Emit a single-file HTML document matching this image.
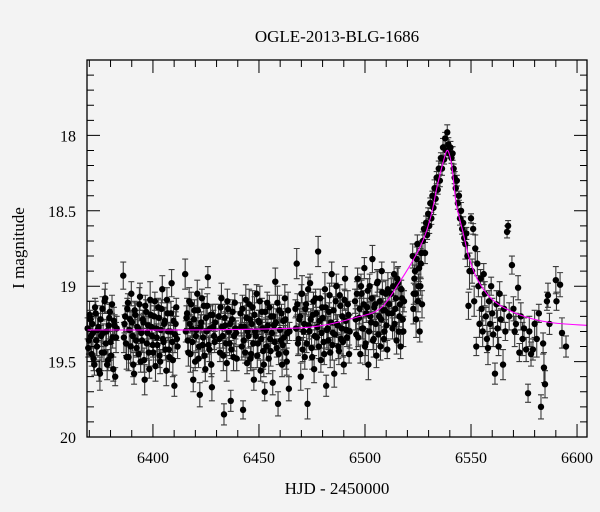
<!DOCTYPE html>
<html><head><meta charset="utf-8"><style>
html,body{margin:0;padding:0;background:#f3f3f3;}
svg{display:block;font-family:"Liberation Serif",serif;}
</style></head><body>
<svg id="chart" width="600" height="512" viewBox="0 0 600 512" xmlns="http://www.w3.org/2000/svg">
<rect x="0" y="0" width="600" height="512" fill="#f3f3f3"/>
<text x="337" y="42" font-size="17" text-anchor="middle">OGLE-2013-BLG-1686</text>
<text x="337" y="494" font-size="17" text-anchor="middle">HJD - 2450000</text>
<text transform="translate(24,248) rotate(-90)" font-size="17" text-anchor="middle">I magnitude</text>
<g id="errs"></g>
<g id="pts"></g>
<path id="model" fill="none" stroke="#ff00ff" stroke-width="1.1"/>
<g id="axes"></g>
<rect x="87" y="60" width="500" height="377" fill="none" stroke="#000" stroke-width="1.3"/>
</svg>
<script>
const times = [6369.2,6369.8,6370.5,6371.1,6371.7,6372.4,6373.0,6373.6,6374.3,6375.0,6375.6,6376.2,6376.9,6377.5,6378.1,6378.8,6379.4,6380.0,6380.7,6381.3,6381.9,6382.6,
6386.0,6386.6,6387.3,6387.9,6388.5,6389.2,6389.8,6390.4,6391.1,6391.7,6392.3,6393.0,6393.6,6394.2,6394.9,6395.5,6396.1,6396.8,6397.4,6398.0,6398.7,6399.3,6399.9,6400.6,6401.2,6401.8,6402.5,6403.1,6403.7,6404.4,6405.0,6405.6,6406.3,6406.9,6407.5,6408.2,6408.8,6409.4,6410.1,6410.7,6411.3,
6415.2,6415.8,6416.4,6417.1,6417.7,6418.3,6419.0,6419.6,6420.2,6420.9,6421.5,6422.1,6422.8,6423.4,6424.0,6424.7,6425.3,6425.9,6426.6,6427.2,6427.8,6428.5,6429.1,
6431.0,6431.6,6432.3,6432.9,6433.5,6434.2,6434.8,6435.4,6436.1,6436.7,6437.3,6438.0,6438.6,6439.2,
6441.3,6441.9,6442.5,6443.2,6443.8,6444.4,6445.1,6445.7,6446.3,6447.0,6447.6,6448.2,6448.9,6449.5,6450.1,6450.8,6451.4,6452.0,6452.7,6453.3,6453.9,6454.6,6455.2,6455.8,6456.5,6457.1,6457.7,6458.4,6459.0,6459.6,6460.3,6460.9,6461.5,6462.2,6462.8,6463.4,6464.1,
6467.2,6467.8,6468.4,6469.1,6469.7,6470.3,6471.0,6471.6,6472.2,6472.9,6473.5,6474.1,6474.8,6475.4,6476.0,6476.7,6477.3,6477.9,6478.6,6479.2,6479.8,6480.5,6481.1,6481.7,6482.4,6483.0,6483.6,6484.3,6484.9,6485.5,6486.2,6486.8,6487.4,6488.1,6488.7,6489.3,6490.0,6490.6,6491.2,6491.9,6492.5,
6495.3,6495.9,6496.5,6497.2,6497.8,6498.4,6499.1,6499.7,6500.3,6501.0,6501.6,6502.2,6502.9,6503.5,6504.1,6504.8,6505.4,6506.0,6506.7,6507.3,6507.9,6508.6,6509.2,6509.8,6510.5,6511.1,
6512.4,6513.0,6513.7,6514.3,6514.9,6515.6,6516.2,6516.8,6517.5,6518.1,
6522.5,6523.0,6523.6,6524.1,6524.7,6525.2,6525.8,6526.3,6526.9,
6527.3,6527.8,6528.3,6528.8,6529.3,6529.8,6530.3,6530.8,6531.3,6531.8,6532.3,6532.8,6533.3,6533.8,6534.3,6534.8,6535.3,6535.8,6536.3,6536.8,6537.3,6537.8,6538.3,6538.8,6539.3,6539.8,
6540.3,6540.8,6541.3,6541.8,6542.3,6542.8,6543.3,6543.8,6544.3,6544.8,6545.3,6545.8,6546.3,6546.8,6547.3,6547.8,6548.3,6548.8,6549.3,
6550.0,6550.5,6551.0,6551.5,6552.0,6552.5,6553.0,6553.5,6554.0,6554.5,6555.0,6555.5,6556.0,6556.5,6557.0,6557.5,6558.0,6558.5,6559.0,6559.5,6560.0,6560.5,6561.3,6562.0,6562.5,6563.0,6563.5,6564.0,6565.1,6565.6,6566.2,6567.0,6567.5,6568.0,6569.3,6570.0,6570.6,6571.2,6572.2,6572.8,6573.5,6574.3,6575.0,6576.0,6576.9,6577.5,6578.3,6579.2,6580.0,6581.0,6582.0,6583.0,6584.0,6584.4,6584.9,6585.8,6586.3,6587.0,6590.0,6590.3,6592.0,6592.9,6594.8];
const mags = [19.28,19.36,19.22,19.45,19.31,19.52,19.18,19.40,19.27,19.58,19.33,19.15,19.44,19.08,19.30,19.49,19.21,19.37,19.12,19.55,19.26,19.34,
18.93,19.25,19.38,19.15,19.47,19.22,19.05,19.33,19.58,19.19,19.41,19.28,19.12,19.50,19.36,19.24,19.62,19.17,19.31,19.44,19.09,19.27,19.39,19.20,19.53,19.34,19.14,19.46,19.29,19.02,19.37,19.23,19.56,19.18,19.42,19.30,18.98,19.49,19.66,19.25,19.35,
18.92,19.21,19.36,19.10,19.45,19.28,19.62,19.16,19.33,19.05,19.48,19.72,19.24,19.39,19.13,19.55,19.30,18.94,19.42,19.19,19.67,19.27,19.37,
19.20,19.44,19.08,19.33,19.85,19.26,19.51,19.15,19.38,19.76,19.22,19.47,19.11,19.31,
19.18,19.40,19.82,19.27,19.09,19.51,19.33,19.22,19.45,19.14,19.62,19.30,19.05,19.38,19.24,19.56,19.17,19.43,19.70,19.29,19.11,19.48,19.35,19.20,19.64,19.26,18.97,19.41,19.78,19.16,19.36,19.52,19.23,19.08,19.44,19.31,19.68,
19.15,18.85,19.38,19.22,19.60,19.05,19.30,19.47,19.12,19.78,19.26,18.98,19.41,19.19,19.55,19.08,19.34,18.77,19.23,19.49,19.14,19.37,19.02,19.66,19.28,19.17,19.44,18.92,19.31,19.58,19.10,19.25,19.40,19.06,19.35,19.20,19.52,18.95,19.29,19.12,19.45,
19.10,19.32,18.95,19.21,19.45,19.05,19.28,18.88,19.38,19.14,19.52,19.00,19.24,18.82,19.35,19.12,19.46,18.97,19.20,19.40,18.90,19.16,19.30,19.05,19.42,19.18,
19.05,19.28,18.92,19.15,19.36,18.98,19.20,19.40,19.08,19.30,
18.80,19.05,18.90,19.22,18.72,19.00,19.30,18.85,19.12,
18.70,18.62,18.78,18.58,18.66,18.52,18.60,18.45,18.55,18.40,18.48,18.35,18.42,18.28,18.36,18.22,18.30,18.15,18.22,18.08,18.16,18.02,18.10,17.98,18.06,18.12,
18.08,18.15,18.12,18.22,18.28,18.35,18.30,18.45,18.40,18.55,18.50,18.62,18.58,18.68,18.72,18.65,18.80,19.13,18.90,
18.55,18.90,18.62,19.10,18.75,19.40,18.85,19.00,19.25,18.95,19.15,19.30,18.92,19.05,19.20,19.35,19.41,19.10,19.25,19.00,19.18,19.32,19.58,19.12,19.28,19.40,19.05,19.22,19.52,19.15,19.30,18.64,18.60,19.20,18.86,19.15,19.30,19.25,19.01,19.44,19.20,19.35,19.28,19.42,19.71,19.30,19.45,19.42,19.25,19.35,19.18,19.80,19.38,19.54,19.65,19.10,19.06,19.25,18.96,19.10,18.99,19.31,19.40];
const times2 = [6369.5,6370.1,6370.8,6371.4,6372.0,6372.7,6373.3,6373.9,6374.6,6375.3,6375.9,6376.5,6377.2,6377.8,6378.4,6379.1,6379.7,6380.3,6381.0,6381.6,6382.2,6382.9,
6386.3,6386.9,6387.6,6388.2,6388.8,6389.5,6390.1,6390.7,6391.4,6392.0,6392.6,6393.3,6393.9,6394.5,6395.2,6395.8,6396.4,6397.1,6397.7,6398.3,6399.0,6399.6,6400.2,6400.9,6401.5,6402.1,6402.8,6403.4,6404.0,6404.7,6405.3,6405.9,6406.6,6407.2,6407.8,6408.5,6409.1,6409.7,6410.4,6411.0,6411.6,
6415.5,6416.1,6416.7,6417.4,6418.0,6418.6,6419.3,6419.9,6420.5,6421.2,6421.8,6422.4,6423.1,6423.7,6424.3,6425.0,6425.6,6426.2,6426.9,6427.5,6428.1,6428.8,6429.4,
6431.3,6431.9,6432.6,6433.2,6433.8,6434.5,6435.1,6435.7,6436.4,6437.0,6437.6,6438.3,6438.9,6439.5,
6441.6,6442.2,6442.8,6443.5,6444.1,6444.7,6445.4,6446.0,6446.6,6447.3,6447.9,6448.5,6449.2,6449.8,6450.4,6451.1,6451.7,6452.3,6453.0,6453.6,6454.2,6454.9,6455.5,6456.1,6456.8,6457.4,6458.0,6458.7,6459.3,6459.9,6460.6,6461.2,6461.8,6462.5,6463.1,6463.7,6464.4,
6467.5,6468.1,6468.7,6469.4,6470.0,6470.6,6471.3,6471.9,6472.5,6473.2,6473.8,6474.4,6475.1,6475.7,6476.3,6477.0,6477.6,6478.2,6478.9,6479.5,6480.1,6480.8,6481.4,6482.0,6482.7,6483.3,6483.9,6484.6,6485.2,6485.8,6486.5,6487.1,6487.7,6488.4,6489.0,6489.6,6490.3,6490.9,6491.5,6492.2,6492.8,
6495.6,6496.2,6496.8,6497.5,6498.1,6498.7,6499.4,6500.0,6500.6,6501.3,6501.9,6502.5,6503.2,6503.8,6504.4,6505.1,6505.7,6506.3,6507.0,6507.6,6508.2,6508.9,6509.5,6510.1,6510.8,6511.4,
6512.7,6513.3,6514.0,6514.6,6515.2,6515.9,6516.5,6517.1,6517.8,6518.4,6522.8,6523.3,6523.9,6524.4,6525.0,6525.5,6526.1,6526.6];
const mags2 = [19.41,19.19,19.33,19.25,19.48,19.14,19.36,19.29,19.56,19.22,19.44,19.31,19.10,19.38,19.52,19.26,19.17,19.46,19.34,19.23,19.60,19.28,
19.34,19.20,19.47,19.11,19.29,19.40,19.24,19.52,19.16,19.36,19.27,19.45,19.07,19.31,19.22,19.49,19.13,19.38,19.26,19.55,19.19,19.33,19.44,19.10,19.28,19.39,19.21,19.50,19.15,19.35,19.25,19.42,19.09,19.30,19.47,19.18,19.37,19.23,19.32,19.14,19.40,
19.30,19.18,19.44,19.25,19.12,19.37,19.22,19.50,19.29,19.16,19.40,19.27,19.08,19.34,19.46,19.21,19.13,19.39,19.28,19.52,19.19,19.33,19.24,
19.35,19.14,19.27,19.46,19.21,19.38,19.10,19.30,19.25,19.42,19.17,19.33,19.28,19.48,
19.27,19.15,19.36,19.44,19.21,19.30,19.12,19.48,19.25,19.38,19.19,19.33,19.46,19.23,19.10,19.35,19.28,19.52,19.17,19.40,19.26,19.14,19.43,19.31,19.20,19.37,19.24,19.11,19.45,19.29,19.18,19.39,19.34,19.22,19.50,19.16,19.30,
19.28,19.12,19.35,19.20,19.05,19.42,19.25,19.15,19.38,19.02,19.30,19.22,19.47,19.10,19.33,19.18,19.27,19.40,19.08,19.31,19.21,19.45,19.14,19.29,19.36,19.06,19.24,19.39,19.16,19.32,19.00,19.26,19.43,19.13,19.28,19.37,19.09,19.23,19.34,19.19,19.30,
19.22,19.05,19.34,19.15,19.00,19.28,19.12,19.40,19.18,19.03,19.30,19.20,19.08,19.36,19.14,19.25,18.98,19.32,19.10,19.22,19.04,19.35,19.16,19.26,19.02,19.12,
19.18,19.00,19.25,19.08,18.95,19.30,19.12,19.02,19.22,19.10,19.15,18.95,19.05,18.82,19.10,18.88,19.00,18.78];
const errs = [0.07,0.09,0.06,0.08,0.10,0.07,0.08,0.06,0.09,0.11,0.07,0.08,0.06,0.10,0.08,0.07,0.09,0.12,0.06,0.08,0.07,0.10,0.09,0.06,0.08];
const modelT = [6369,6420,6463,6480,6495,6507,6516,6526,6531,6534,6537,6539,6541,6543,6546,6549.5,6554,6561,6573,6587,6605];
const modelM = [19.29,19.29,19.28,19.26,19.21,19.15,18.98,18.74,18.54,18.34,18.17,18.10,18.21,18.45,18.63,18.83,18.98,19.10,19.19,19.24,19.26];
const xTicks = [6400,6450,6500,6550,6600];
const yTicks = [18,18.5,19,19.5,20];

const NS="http://www.w3.org/2000/svg";
const X0=87,X1=587,Y0=60,Y1=437;
const xmin=6368.9, xmax=6604.7, ymin=17.5, ymax=20;
const xs=t=>X0+(t-xmin)/(xmax-xmin)*(X1-X0);
const ys=m=>Y0+(m-ymin)/(ymax-ymin)*(Y1-Y0);
function mk(tag,attrs,parent){const e=document.createElementNS(NS,tag);for(const k in attrs)e.setAttribute(k,attrs[k]);parent.appendChild(e);return e;}
const gE=document.getElementById('errs'),gP=document.getElementById('pts'),gA=document.getElementById('axes');
function drawSeries(T,M,off){
  const n=Math.min(T.length,M.length);
  for(let i=0;i<n;i++){
    const x=xs(T[i]),m=M[i];
    let e=errs[(i+off)%errs.length]; if(m<18.7) e*=0.5;
    const ya=ys(m-e),yb=ys(m+e);
    const bar=mk('path',{d:`M${x},${ya}V${yb}M${x-3},${ya}H${x+3}M${x-3},${yb}H${x+3}`,stroke:'#3a3a3a','stroke-width':1.1,fill:'none'},gE);
    
    
    const c=mk('circle',{cx:x,cy:ys(m),r:3.2,fill:'#000'},gP);
    
    
  }
}
drawSeries(times,mags,0);
drawSeries(times2,mags2,7);
const P=modelT.map((t,i)=>[xs(Math.min(Math.max(t,xmin),xmax)),ys(modelM[i])]);
let d=`M${P[0][0]},${P[0][1]}`;
for(let i=0;i<P.length-1;i++){
  const p0=P[Math.max(i-1,0)],p1=P[i],p2=P[i+1],p3=P[Math.min(i+2,P.length-1)];
  d+=`C${p1[0]+(p2[0]-p0[0])/6},${p1[1]+(p2[1]-p0[1])/6} ${p2[0]-(p3[0]-p1[0])/6},${p2[1]-(p3[1]-p1[1])/6} ${p2[0]},${p2[1]}`;
}
document.getElementById('model').setAttribute('d',d);
for(let t=6370;t<=6600;t+=10){
  const x=xs(t),maj=(t%50===0),L=maj?13:7;
  const tk=mk('path',{d:`M${x},${Y1}V${Y1-L}M${x},${Y0}V${Y0+L}`,stroke:'#000','stroke-width':1},gA);
  
  
}
xTicks.forEach(t=>{
  const tx=mk('text',{x:xs(t),y:463,'font-size':16,'text-anchor':'middle'},gA);
  tx.textContent=t;
  
  
});
for(let k=175;k<=200;k++){
  const m=k/10,y=ys(m),maj=(k%5===0),L=maj?13:7;
  const tk=mk('path',{d:`M${X0},${y}H${X0+L}M${X1},${y}H${X1-L}`,stroke:'#000','stroke-width':1},gA);
  
  
}
yTicks.forEach(m=>{
  const tx=mk('text',{x:76,y:ys(m)+6,'font-size':16,'text-anchor':'end'},gA);
  tx.textContent=String(m);
  
  
});
</script>
</body></html>
